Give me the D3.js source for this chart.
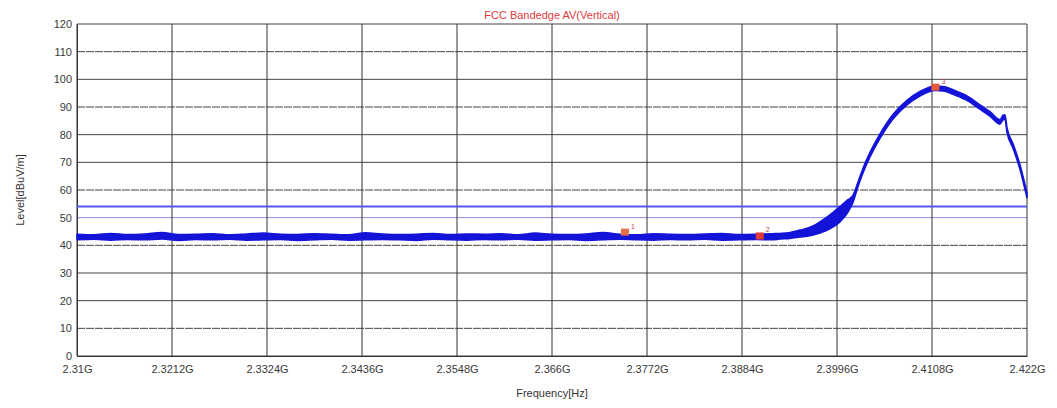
<!DOCTYPE html>
<html><head><meta charset="utf-8">
<script src="https://cdn.jsdelivr.net/npm/d3@7"></script>
<style>body{margin:0;background:#fff}svg{display:block}text{font-family:"Liberation Sans",Arial,sans-serif}</style>
</head><body><svg id="c" width="1057" height="408"></svg>
<script>
const title = "FCC Bandedge AV(Vertical)";
const xLabel = "Frequency[Hz]";
const yLabel = "Level[dBuV/m]";
const xTicks = [2.31, 2.3212, 2.3324, 2.3436, 2.3548, 2.366, 2.3772, 2.3884, 2.3996, 2.4108, 2.422];
const xTickLabels = ["2.31G","2.3212G","2.3324G","2.3436G","2.3548G","2.366G","2.3772G","2.3884G","2.3996G","2.4108G","2.422G"];
const yTicks = [0,10,20,30,40,50,60,70,80,90,100,110,120];
const dashedY = [10,40,60,90,110];
const limitLevel = 54;
const refLevel = 50;

// trace envelope (GHz, dBuV/m)
const freqGHz = [2.310,2.312,2.314,2.316,2.318,2.320,2.322,2.324,2.326,2.328,2.330,2.332,2.334,2.336,2.338,2.340,2.342,2.344,2.346,2.348,2.350,2.352,2.354,2.356,2.358,2.360,2.362,2.364,2.366,2.368,2.370,2.372,2.374,2.376,2.378,2.380,2.382,2.384,2.386,2.388,2.390,2.392,
 2.39288,2.39406,2.39524,2.39641,2.39759,2.39877,2.39995,2.40089,2.40148,2.40207,2.40266,2.40349,2.40467,2.4062,2.40785,2.40938,2.41115,2.41233,2.41327,2.41492,2.41645,2.41763,2.41881,2.41917,2.4194,2.41964,2.42034,2.42117,2.422];
const levelMax = [44.0,43.8,44.3,43.9,44.1,44.6,43.9,44.0,44.2,43.8,44.1,44.4,44.0,43.9,44.2,44.0,43.8,44.5,44.1,43.9,44.0,44.3,43.9,44.1,44.0,44.2,43.8,44.4,44.0,43.9,44.1,44.6,44.0,43.8,44.2,44.0,43.9,44.1,44.3,43.9,44.0,44.2,
 44.3,44.6,45.5,46.5,48.5,51.0,54.0,56.5,58.0,62.8,67.8,73.6,80.3,87.3,92.4,95.6,97.6,97.3,96.2,94.0,90.8,88.3,85.4,87.0,87.2,82.5,76.8,69.1,58.8];
const levelMin = [42.0,42.2,41.9,42.1,42.0,42.3,41.8,42.1,42.0,42.2,41.9,42.0,42.1,41.8,42.0,42.2,41.9,42.0,42.1,42.0,41.8,42.2,42.0,41.9,42.1,42.0,42.2,41.9,42.0,42.1,41.8,42.0,42.2,42.0,41.9,42.1,42.0,42.2,41.9,42.0,42.1,42.0,
 42.3,42.5,43.0,43.5,44.5,46.0,48.5,52.0,55.5,61.2,66.2,72.0,78.7,85.7,90.8,94.0,96.0,95.7,94.6,92.4,89.2,86.7,83.8,85.4,85.6,80.9,75.2,67.5,57.2];

const markerFreq = [2.3746, 2.3905, 2.4112];
const markerLevel = [44.6, 43.2, 97.0];
const markerNames = ["1","2","3"];
const markerColors = ["#e2704a","#e53838","#e85a3a"];

const svg = d3.select("#c");
const L = 77, R = 1027, T = 24, B = 356;
const x = d3.scaleLinear().domain([2.31, 2.422]).range([L, R]);
const y = d3.scaleLinear().domain([0, 120]).range([B, T]);

svg.append("rect").attr("width",1057).attr("height",408).attr("fill","#fff");

// grid
const g = svg.append("g");
g.selectAll("line.h").data(yTicks).join("line")
  .attr("x1",L).attr("x2",R).attr("y1",d=>y(d)).attr("y2",d=>y(d))
  .attr("stroke", d=> d===refLevel ? "#8a8ae6" : "#454545")
  .attr("stroke-width",1)
  .attr("stroke-dasharray", d=> dashedY.includes(d) ? "8,1" : null);
g.selectAll("line.v").data(xTicks).join("line")
  .attr("y1",T).attr("y2",B).attr("x1",d=>x(d)).attr("x2",d=>x(d))
  .attr("stroke","#333").attr("stroke-width",1);

// axes
const xAxis = d3.axisBottom(x).tickValues(xTicks).tickFormat((d,i)=>xTickLabels[i]).tickSize(0).tickPadding(9);
const ax = svg.append("g").attr("transform",`translate(0,${B})`).call(xAxis);
ax.select(".domain").attr("stroke","#333");
ax.selectAll("text").attr("font-size",11).attr("fill","#3a3a3a");
const yAxis = d3.axisLeft(y).tickValues(yTicks).tickSize(0).tickPadding(5);
const ay = svg.append("g").attr("transform",`translate(${L},0)`).call(yAxis);
ay.select(".domain").attr("stroke","#333");
ay.selectAll("text").attr("font-size",11).attr("fill","#3a3a3a");

// limit line
svg.append("line").attr("x1",L).attr("x2",R).attr("y1",y(limitLevel)).attr("y2",y(limitLevel))
  .attr("stroke","#5656ee").attr("stroke-width",2);

// trace
const pts = freqGHz.map((f,i)=>({f, hi:levelMax[i], lo:levelMin[i]}));
const area = d3.area().curve(d3.curveMonotoneX).x(d=>x(d.f)).y0(d=>y(d.lo)).y1(d=>y(d.hi));
svg.append("path").datum(pts).attr("d",area)
  .attr("fill","#1414d8").attr("stroke","#1414d8").attr("stroke-width",1.6).attr("stroke-linejoin","round");

// markers
const mk = svg.append("g");
markerFreq.forEach((f,i)=>{
  mk.append("rect").attr("x",x(f)-4).attr("y",y(markerLevel[i])-4).attr("width",8).attr("height",7)
    .attr("fill",markerColors[i]);
  mk.append("text").attr("x",x(f)+6).attr("y",y(markerLevel[i])-4).attr("font-size",7)
    .attr("fill","#c04040").text(markerNames[i]);
});

// titles
svg.append("text").attr("x",552).attr("y",19).attr("text-anchor","middle").attr("font-size",11)
  .attr("fill","#e03a3a").text(title);
svg.append("text").attr("x",552).attr("y",397).attr("text-anchor","middle").attr("font-size",11)
  .attr("fill","#333").text(xLabel);
svg.append("text").attr("transform","translate(24,190) rotate(-90)").attr("text-anchor","middle")
  .attr("font-size",11).attr("fill","#333").text(yLabel);
</script></body></html>
